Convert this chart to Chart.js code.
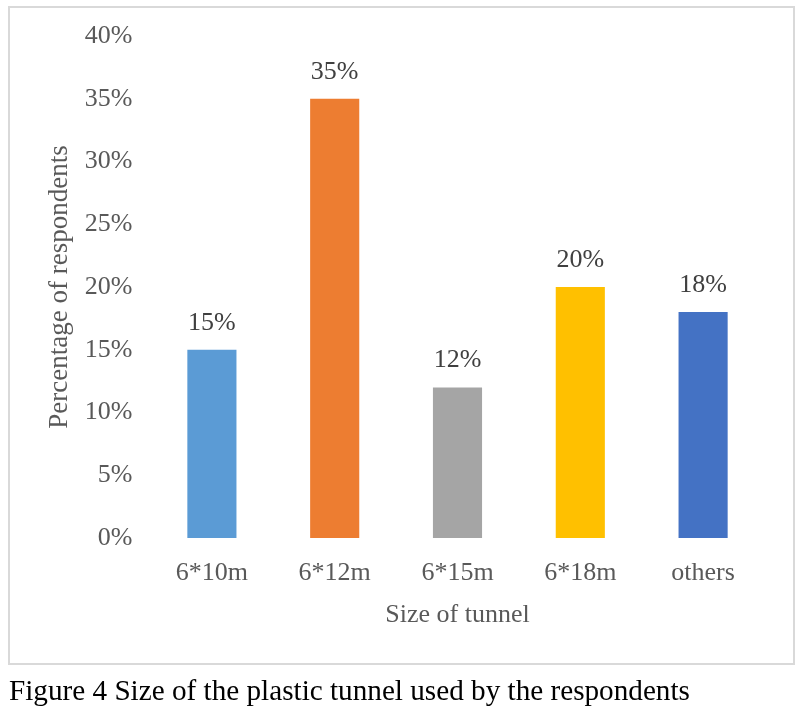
<!DOCTYPE html>
<html>
<head>
<meta charset="utf-8">
<script src="https://cdn.jsdelivr.net/npm/chart.js@4/dist/chart.umd.min.js"></script>
<style>
  html, body { margin: 0; padding: 0; background: #fff; }
  #wrap { position: absolute; left: 0; top: 0; width: 800px; height: 718px; }
  #frame { position: absolute; left: 8px; top: 6px; width: 783px; height: 655px; border: 2px solid #d9d9d9; }
  #caption { position: absolute; left: 9px; top: 672px; font-family: "Liberation Serif", "Times New Roman", serif; font-size: 29.2px; color: #000; white-space: nowrap; line-height: 36px; }
  canvas { position: absolute; left: 0; top: 0; }
</style>
</head>
<body>
<div id="wrap">
  <div id="frame"></div>
  <canvas id="c" width="800" height="718"></canvas>
  <div id="caption">Figure 4 Size of the plastic tunnel used by the respondents</div>
</div>
<script>
const categories = ["6*10m", "6*12m", "6*15m", "6*18m", "others"];
const values = [15, 35, 12, 20, 18];
const barColors = ["#5B9BD5", "#ED7D31", "#A5A5A5", "#FFC000", "#4472C4"];
const yTicks = [0, 5, 10, 15, 20, 25, 30, 35, 40];

const serif = "'Liberation Serif', 'Times New Roman', serif";

const valueLabels = {
  id: 'valueLabels',
  afterDatasetsDraw(chart) {
    const ctx = chart.ctx;
    const meta = chart.getDatasetMeta(0);
    ctx.save();
    ctx.font = "26px " + serif;
    ctx.fillStyle = "#404040";
    ctx.textAlign = "center";
    ctx.textBaseline = "middle";
    meta.data.forEach((bar, i) => {
      ctx.fillText(values[i] + "%", bar.x, bar.y - 27);
    });
    ctx.restore();
  }
};

new Chart(document.getElementById('c'), {
  type: 'bar',
  data: {
    labels: categories,
    datasets: [{
      data: values,
      backgroundColor: barColors,
      borderWidth: 0,
      barPercentage: 0.4,
      categoryPercentage: 1.0
    }]
  },
  options: {
    responsive: false,
    animation: false,
    devicePixelRatio: 1,
    layout: { padding: { left: 0, right: 35.5, top: 36, bottom: 80 } },
    plugins: { legend: { display: false }, tooltip: { enabled: false } },
    scales: {
      x: {
        grid: { display: false, drawTicks: false },
        border: { display: false },
        ticks: { color: "#595959", font: { family: serif, size: 26 }, padding: 20 },
        title: { display: true, text: "Size of tunnel", color: "#595959", font: { family: serif, size: 26 }, padding: { top: 2, bottom: 7 } },
        afterFit(scale) { scale.height = 100; }
      },
      y: {
        min: 0, max: 40,
        grid: { display: false, drawTicks: false },
        border: { display: false },
        afterBuildTicks(scale) { scale.ticks = yTicks.map(v => ({ value: v })); },
        ticks: { color: "#595959", font: { family: serif, size: 26 }, padding: 18, callback: v => v + "%" },
        title: { display: true, text: "Percentage of respondents", color: "#595959", font: { family: serif, size: 27 }, padding: { top: 44, bottom: 0 } },
        afterFit(scale) { scale.width = 150.5; }
      }
    }
  },
  plugins: [valueLabels]
});
</script>
</body>
</html>
